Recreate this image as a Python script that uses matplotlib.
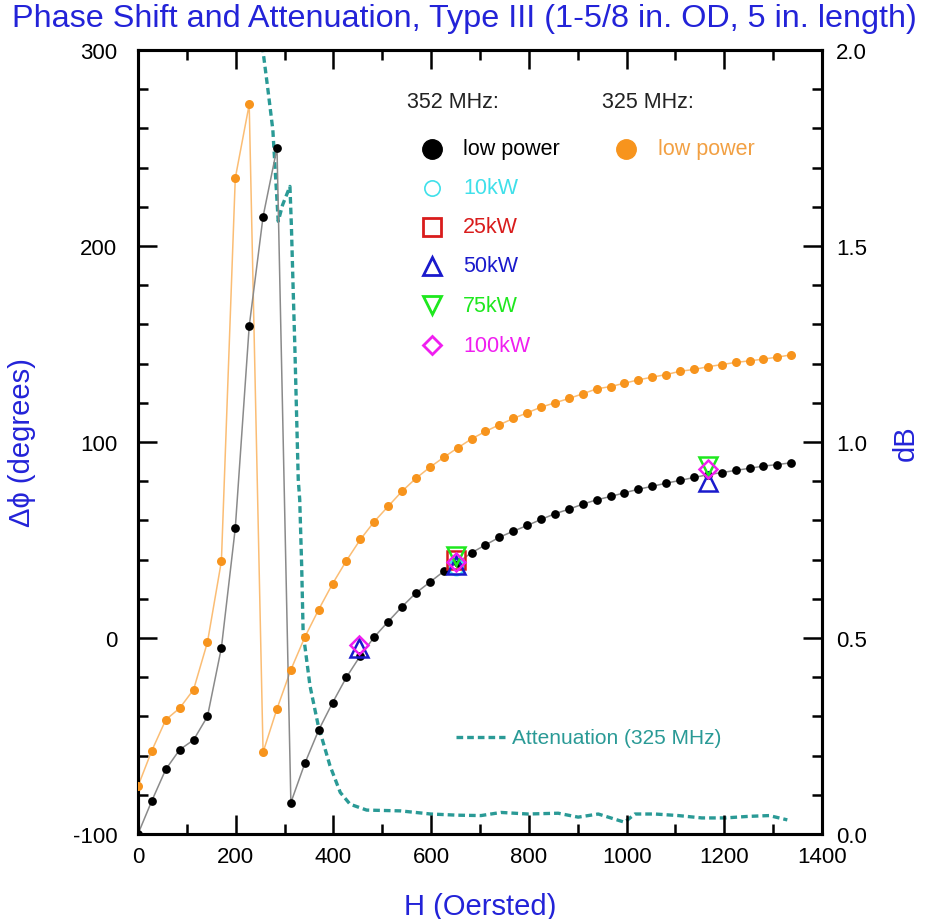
import matplotlib
matplotlib.use("Agg")
import matplotlib.pyplot as plt
from matplotlib.ticker import MultipleLocator

plt.rcParams['font.family'] = ['Liberation Sans', 'DejaVu Sans']
plt.rcParams['axes.unicode_minus'] = False

# ---------------- data ----------------
H = [0, 28.4, 56.9, 85.3, 113.8, 142.2, 170.7, 199.1, 227.6, 256.0, 284.5, 312.9,
     341.4, 369.8, 398.3, 426.7, 455.2, 483.6, 512.1, 540.5, 569.0, 597.4, 625.9,
     654.3, 682.8, 711.2, 739.7, 768.1, 796.6, 825.0, 853.5, 881.9, 910.4, 938.8,
     967.3, 995.7, 1024.2, 1052.6, 1081.1, 1109.5, 1138.0, 1166.4, 1194.9, 1223.3,
     1251.8, 1280.2, 1308.7, 1337.1]

phase_352_low = [-100, -83, -67, -57, -52, -40, -5, 56, 159, 215, 250, -84,
                 -64, -47, -33, -20, -9, 0.5, 8.4, 16, 23, 28.5, 34, 38.5,
                 43.5, 47.5, 51.4, 54.5, 57.4, 60.5, 63.4, 65.7, 68.3, 70.5, 72.2, 74.1,
                 75.9, 77.4, 79, 80.4, 81.9, 83.3, 84.4, 85.5, 86.6, 87.7, 88.5, 89.4]

phase_325_low = [-75.6, -57.4, -41.7, -35.8, -26.3, -2.1, 39.2, 234.6, 272.2, -58.3, -36.1, -16.2,
                 0.4, 14.5, 27.7, 39.5, 50.3, 59.4, 67.2, 74.9, 81.5, 87.1, 92.2, 97,
                 101.6, 105.4, 108.8, 112, 114.9, 117.8, 120, 122.2, 124.6, 127.1, 128.3, 130,
                 131.7, 133.1, 134.4, 136.1, 137, 138.4, 139.5, 140.6, 141.4, 142.3, 143.3, 144.5]

H_10kW = [651];            phase_10kW = [36]
H_25kW = [651];            phase_25kW = [40]
H_50kW = [453, 651, 1167]; phase_50kW = [-5, 37, 79.5]
H_75kW = [651, 1167];      phase_75kW = [42, 88]
H_100kW = [453, 651, 1167]; phase_100kW = [-3.5, 39, 86]

H_att = [250, 256, 266, 276, 287, 296, 311, 314, 317.5, 321, 324.5, 328, 331, 335, 338,
         352, 369, 393, 414, 434, 468, 537, 599, 654, 702, 743, 798, 860, 901, 942,
         996, 1017, 1058, 1106, 1154, 1202, 1250, 1292, 1329]
att_325 = [2.12, 1.996, 1.898, 1.796, 1.563, 1.605, 1.652, 1.55, 1.393, 1.244, 1.074, 0.904,
           0.853, 0.684, 0.514, 0.378, 0.276, 0.174, 0.106, 0.076, 0.061, 0.059, 0.051, 0.048,
           0.047, 0.055, 0.051, 0.053, 0.043, 0.051, 0.030, 0.051, 0.051, 0.047, 0.041, 0.041,
           0.045, 0.047, 0.036]

# ---------------- styles ----------------
BLUE_TXT = '#2323d8'
ORANGE = '#f7941d'
TEAL = '#2a9a96'
C10, C25, C50, C75, C100 = '#3fe0ea', '#d91c1c', '#1a1acc', '#1ee81e', '#f01ef0'

fig = plt.figure(figsize=(9.28, 9.2), dpi=100)
ax = fig.add_axes([138/928, 1-835/920, 684/928, 784/920])
ax2 = ax.twinx()
ax.set_zorder(ax2.get_zorder() + 1)
ax.patch.set_visible(False)

# attenuation on right axis
ax2.plot(H_att, att_325, color=TEAL, lw=2.4, linestyle=(0, (2.0, 1.2)))
ax2.set_ylim(0, 2.0)

# phase series
ax.plot(H, phase_325_low, color='#fbbd74', lw=1.1, zorder=2)
ax.plot(H, phase_325_low, 'o', color=ORANGE, ms=6.5, mec='none', zorder=3)
ax.plot(H, phase_352_low, color='#8a8a8a', lw=1.1, zorder=2)
ax.plot(H, phase_352_low, 'o', color='black', ms=6.3, mec='none', zorder=3)

mk = dict(ls='none', mfc='none', mew=1.8, zorder=5, clip_on=False)
ax.plot(H_10kW, phase_10kW, 'o', mec=C10, ms=11, **mk)
ax.plot(H_25kW, phase_25kW, 's', mec=C25, ms=13, **mk)
ax.plot(H_50kW, phase_50kW, '^', mec=C50, ms=13, **mk)
ax.plot(H_75kW, phase_75kW, 'v', mec=C75, ms=13, **mk)
ax.plot(H_100kW, phase_100kW, 'D', mec=C100, ms=9, **mk)

ax.set_xlim(0, 1400)
ax.set_ylim(-100, 300)
ax.xaxis.set_major_locator(MultipleLocator(200))
ax.xaxis.set_minor_locator(MultipleLocator(100))
ax.yaxis.set_major_locator(MultipleLocator(100))
ax.yaxis.set_minor_locator(MultipleLocator(20))
ax2.yaxis.set_major_locator(MultipleLocator(0.5))
ax2.yaxis.set_minor_locator(MultipleLocator(0.1))
ax2.yaxis.set_major_formatter(matplotlib.ticker.FormatStrFormatter('%.1f'))

for a in (ax, ax2):
    for s in a.spines.values():
        s.set_linewidth(2.2)
ax.tick_params(which='both', direction='in', width=1.8, labelsize=16, top=True)
ax.tick_params(which='major', length=14)
ax.tick_params(which='minor', length=7)
ax.tick_params(axis='y', which='both', pad=15, right=False)
ax.tick_params(axis='x', which='both', pad=9)
ax2.tick_params(which='both', direction='in', width=1.8, labelsize=16, pad=10)
ax2.tick_params(which='major', length=14)
ax2.tick_params(which='minor', length=7)

ax.set_xlabel('H (Oersted)', color=BLUE_TXT, fontsize=21, labelpad=18)
ax.set_ylabel('Δϕ (degrees)', color=BLUE_TXT, fontsize=21, labelpad=26)
ax2.set_ylabel('dB', color=BLUE_TXT, fontsize=21, labelpad=18)
fig.text(0.5, 1-19/920, 'Phase Shift and Attenuation, Type III (1-5/8 in. OD, 5 in. length)',
         color=BLUE_TXT, fontsize=23.3, ha='center', va='center')

# ---------------- legend (manual) ----------------
T = ax.transAxes
def axx(px): return (px-138)/684
def axy(py): return (835-py)/784

fs = 15.5
ax.text(axx(407), axy(103), '352 MHz:', transform=T, fontsize=fs, color='#222222', va='center')
ax.text(axx(602), axy(103), '325 MHz:', transform=T, fontsize=fs, color='#222222', va='center')
rows = [
    ('low power', 'o', dict(mfc='black', mec='black', ms=14), 'black', 150),
    ('10kW', 'o', dict(mfc='none', mec=C10, ms=11, mew=1.2), C10, 189),
    ('25kW', 's', dict(mfc='none', mec=C25, ms=13, mew=2), C25, 228),
    ('50kW', '^', dict(mfc='none', mec=C50, ms=13, mew=2), C50, 267),
    ('75kW', 'v', dict(mfc='none', mec=C75, ms=13, mew=2), C75, 306),
    ('100kW', 'D', dict(mfc='none', mec=C100, ms=9.5, mew=2), C100, 346),
]
for lab, m, kw, col, py in rows:
    ax.plot([axx(432)], [axy(py)], m, transform=T, clip_on=False, zorder=6, **kw)
    ax.text(axx(463), axy(py), lab, transform=T, fontsize=fs, color=col, va='center')
ax.plot([axx(626)], [axy(150)], 'o', mfc=ORANGE, mec=ORANGE, ms=14, transform=T, clip_on=False)
ax.text(axx(658), axy(150), 'low power', transform=T, fontsize=fs, color='#f2a043', va='center')

ax.plot([axx(456), axx(505)], [axy(738), axy(738)], color=TEAL, lw=2.4,
        linestyle=(0, (2.0, 1.2)), transform=T)
ax.text(axx(512), axy(738), 'Attenuation (325 MHz)', transform=T, fontsize=15,
        color=TEAL, va='center')

fig.savefig('out.png', dpi=100)
